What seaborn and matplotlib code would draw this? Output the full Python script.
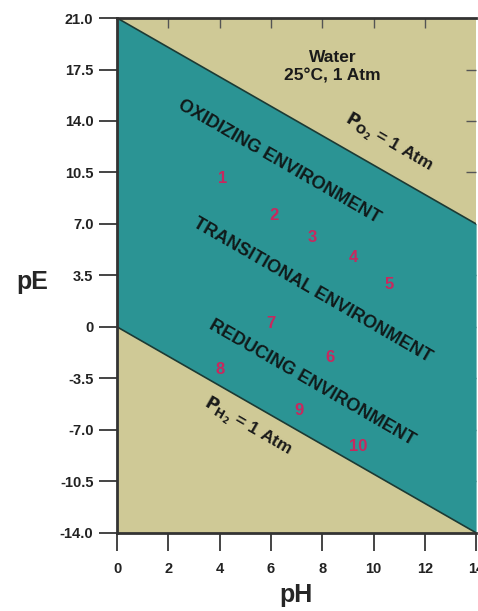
import numpy as np
import pandas as pd
import seaborn as sns
import matplotlib.pyplot as plt

# boundary lines of the water stability field
ph = [0, 14]
pe_o2 = [21.0, 7.0]     # P_O2 = 1 Atm
pe_h2 = [0.0, -14.0]    # P_H2 = 1 Atm

# numbered sample points
labels = ['1', '2', '3', '4', '5', '6', '7', '8', '9', '10']
pt_ph = [4.1, 6.1, 7.6, 9.2, 10.6, 8.3, 6.0, 4.0, 7.1, 9.4]
pt_pe = [10.1, 7.6, 6.1, 4.7, 2.9, -2.1, 0.2, -2.9, -5.7, -8.1]

# environment labels
env_names = ['OXIDIZING ENVIRONMENT', 'TRANSITIONAL ENVIRONMENT', 'REDUCING ENVIRONMENT']
env_ph = [6.3, 7.6, 7.6]
env_pe = [11.2, 2.5, -3.8]

yticks = [21.0, 17.5, 14.0, 10.5, 7.0, 3.5, 0, -3.5, -7.0, -10.5, -14.0]
ytick_labels = ['21.0', '17.5', '14.0', '10.5', '7.0', '3.5', '0', '-3.5', '-7.0', '-10.5', '-14.0']
xticks = [0, 2, 4, 6, 8, 10, 12, 14]

tan = '#cfc996'
teal = '#2b9494'
red = '#c8285e'

sns.set_style('ticks')
plt.rcParams['font.family'] = ['Liberation Sans', 'DejaVu Sans']
plt.rcParams['font.weight'] = 'bold'

fig = plt.figure(figsize=(4.78, 6.11), dpi=100)
ax = fig.add_axes([0.245, 0.128, 0.751, 0.8425])
ax.set_facecolor(tan)

ax.fill_between(ph, pe_h2, pe_o2, color=teal, lw=0)
lines = pd.DataFrame({'pH': ph + ph, 'pE': pe_o2 + pe_h2,
                      'line': ['O2', 'O2', 'H2', 'H2']})
sns.lineplot(data=lines, x='pH', y='pE', units='line', estimator=None,
             color='#1c3a34', lw=1.2, ax=ax, legend=False)

for t, x, y in zip(labels, pt_ph, pt_pe):
    ax.text(x, y, t, color=red, fontsize=12, fontweight='bold',
            ha='center', va='center')

for t, x, y in zip(env_names, env_ph, env_pe):
    ax.text(x, y, t, color='#101a1a', fontsize=13, fontweight='bold',
            ha='center', va='center', rotation=-30, rotation_mode='anchor')

ax.text(8.4, 17.7, 'Water\n25°C, 1 Atm', color='#1a1a1a', fontsize=12.5,
        fontweight='bold', ha='center', va='center', linespacing=1.3)
ax.text(10.6, 12.5, r'$\mathbf{P_{O_2}}$ = 1 Atm', color='#1a1a1a', fontsize=12.5,
        fontweight='bold', ha='center', va='center', rotation=-30,
        rotation_mode='anchor')
ax.text(5.1, -6.8, r'$\mathbf{P_{H_2}}$ = 1 Atm', color='#1a1a1a', fontsize=12.5,
        fontweight='bold', ha='center', va='center', rotation=-30,
        rotation_mode='anchor')

ax.set_xlim(0, 14)
ax.set_ylim(-14, 21)
ax.set_xticks(xticks)
ax.set_yticks(yticks)
ax.set_yticklabels(ytick_labels)
ax.tick_params(axis='both', labelsize=10.5, length=13, width=1.4, color='#444444',
               labelcolor='#222222')
ax.tick_params(axis='x', pad=8)
ax.tick_params(axis='y', pad=4)

# inward ticks on top and right
ax2 = ax.secondary_xaxis('top')
ax2.set_xticks(xticks[1:-1])
ax2.tick_params(direction='in', length=7, width=1.0, labeltop=False, color='#555555')
ax3 = ax.secondary_yaxis('right')
ax3.set_yticks(yticks[1:-1])
ax3.tick_params(direction='in', length=7, width=1.0, labelright=False, color='#555555')

for s in ['left', 'bottom', 'top']:
    ax.spines[s].set_linewidth(2)
    ax.spines[s].set_color('#333333')
ax.spines['right'].set_visible(False)
ax2.spines['top'].set_visible(False)
ax3.spines['right'].set_visible(False)

ax.set_xlabel('pH', fontsize=18, fontweight='bold', labelpad=0)
ax.set_ylabel('pE', fontsize=18, fontweight='bold', rotation=0, labelpad=0,
              va='center')
ax.yaxis.set_label_coords(-0.235, 0.487)
ax.xaxis.set_label_coords(0.497, -0.097)

fig.savefig('out.png', dpi=100)
